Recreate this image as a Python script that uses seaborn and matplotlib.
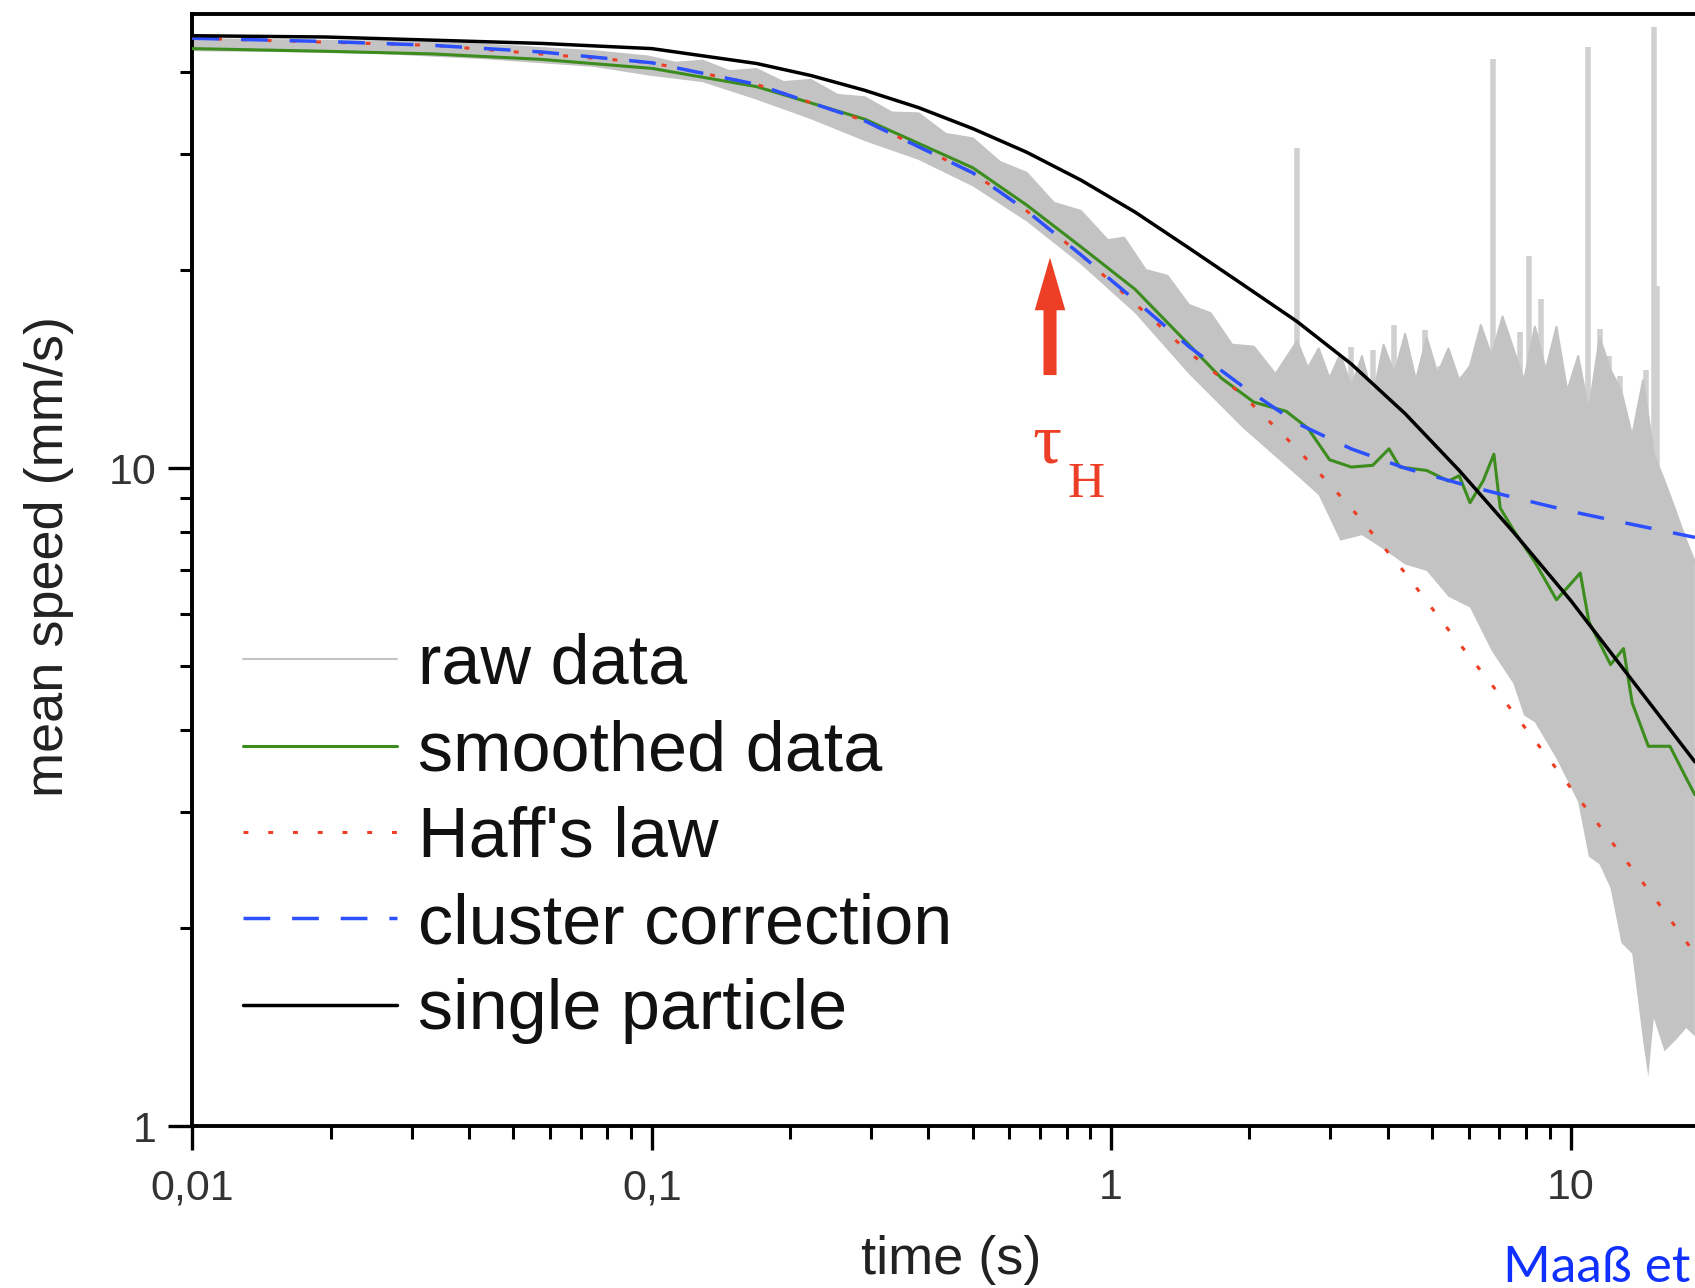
import numpy as np
import matplotlib
matplotlib.use('Agg')
import matplotlib.pyplot as plt
import seaborn as sns
from matplotlib.ticker import LogLocator, FuncFormatter, NullFormatter

# --- values (time in s, speed in mm/s) ---
t_single = [0.01, 0.0194, 0.0333, 0.0573, 0.1, 0.169, 0.222, 0.291, 0.381, 0.5, 0.655, 0.859,
            1.127, 1.477, 1.937, 2.54, 3.331, 4.365, 5.723, 7.505, 10.0, 12.9, 18.65]
v_single = [45.4, 45.2, 44.7, 44.2, 43.4, 41.2, 39.5, 37.5, 35.3, 32.8, 30.2, 27.4,
            24.5, 21.6, 19.0, 16.7, 14.4, 12.1, 9.92, 8.0, 6.3, 5.0, 3.58]

t_cluster = [0.01, 0.0194, 0.0333, 0.0573, 0.1, 0.169, 0.291, 0.5, 0.655, 0.859, 1.127, 1.477,
             1.937, 2.54, 3.331, 4.365, 6.042, 7.505, 10.0, 12.9, 18.65]
v_cluster = [45.0, 44.5, 43.9, 42.9, 41.3, 38.3, 33.7, 28.1, 24.6, 21.1, 18.0, 15.3,
             13.3, 11.7, 10.7, 10.0, 9.38, 9.03, 8.6, 8.28, 7.85]

t_haff = [0.01, 0.0333, 0.1, 0.169, 0.291, 0.5, 0.655, 0.859, 1.477, 1.937, 2.54, 3.331,
          4.365, 5.28, 7.11, 9.02, 11.39, 15.26, 18.65]
v_haff = [45.0, 43.9, 41.3, 38.3, 33.7, 28.1, 24.6, 21.1, 15.0, 12.9, 10.7, 8.70,
          6.93, 5.82, 4.47, 3.60, 2.90, 2.22, 1.83]

t_smooth = [0.01, 0.0194, 0.0333, 0.0573, 0.1, 0.169, 0.291, 0.5, 0.655, 0.859, 1.127, 1.477,
            1.738, 2.044, 2.405, 2.681, 2.988, 3.331, 3.71, 4.025, 4.248, 4.864, 5.422, 5.723,
            6.042, 6.45, 6.81, 7.03, 7.505, 8.365, 9.32, 10.5, 10.96, 12.22, 13.04, 13.62,
            14.77, 16.46, 17.86, 18.65]
v_smooth = [43.4, 43.0, 42.6, 41.8, 40.5, 38.0, 33.9, 28.6, 25.1, 21.7, 18.7, 15.4,
            13.7, 12.6, 12.2, 11.5, 10.3, 10.04, 10.1, 10.7, 10.04, 9.92, 9.56, 9.74,
            8.86, 9.56, 10.5, 8.70, 8.06, 7.20, 6.31, 6.93, 5.85, 5.03, 5.32, 4.40,
            3.78, 3.78, 3.38, 3.19]

# raw data: upper and lower edge of the noisy grey band
t_raw_hi = [0.01, 0.01477, 0.0254, 0.04365, 0.075, 0.0984, 0.1127, 0.129, 0.1477, 0.169,
            0.1937, 0.222, 0.254, 0.291, 0.3331, 0.381, 0.4365, 0.5, 0.5723, 0.655, 0.7505,
            0.859, 0.9838, 1.067, 1.190, 1.326, 1.477, 1.646, 1.834, 2.044, 2.279, 2.54,
            2.681, 2.830, 2.988, 3.154, 3.331, 3.516, 3.710, 3.917, 4.135, 4.365, 4.607,
            4.864, 5.135, 5.422, 5.723, 6.042, 6.378, 6.733, 7.110, 7.505, 7.922, 8.365, 8.831,
            9.320, 9.838, 10.39, 10.96, 11.57, 12.22, 12.90, 13.62, 14.38, 15.18, 16.02, 16.91,
            17.86, 18.65]
v_raw_hi = [44.9, 44.7, 44.5, 44.0, 43.0, 42.2, 41.3, 41.6, 40.1, 40.4,
            38.6, 38.9, 36.9, 36.6, 34.7, 34.6, 32.2, 31.7, 29.2, 28.1, 25.3,
            24.6, 22.2, 22.4, 20.0, 19.6, 17.7, 17.2, 15.4, 15.3, 13.9, 15.6,
            14.2, 15.2, 13.7, 14.9, 13.3, 14.8, 12.8, 15.4, 13.9, 16.0, 13.6,
            15.8, 13.9, 15.2, 13.6, 14.3, 16.5, 14.8, 17.0, 15.2, 13.6, 16.4, 14.1,
            16.4, 13.1, 14.8, 12.2, 15.8, 14.1, 13.1, 11.2, 13.6, 10.5, 9.56, 8.63,
            7.76, 7.20]
t_raw_lo = [0.01, 0.01477, 0.0254, 0.04365, 0.075, 0.0984, 0.129, 0.169, 0.222, 0.291, 0.381,
            0.5, 0.655, 0.859, 1.127, 1.477, 1.937, 2.54, 2.830, 3.154, 3.516, 3.917, 4.365,
            4.864, 5.422, 6.042, 6.733, 7.505, 7.922, 8.365, 9.320, 10.39, 10.96, 11.57, 12.22,
            12.90, 13.62, 14.38, 14.77, 15.18, 16.02, 16.91, 17.86, 18.65]
v_raw_lo = [43.0, 42.9, 42.6, 41.8, 40.7, 39.5, 38.6, 36.3, 33.9, 31.4, 29.4,
            26.8, 23.7, 20.4, 17.2, 13.9, 11.5, 9.74, 9.10, 7.76, 7.91, 7.53, 7.14,
            6.98, 6.38, 6.14, 5.28, 4.71, 4.21, 4.11, 3.62, 3.11, 2.57, 2.50, 2.30,
            1.90, 1.83, 1.35, 1.19, 1.46, 1.30, 1.35, 1.41, 1.37]

# isolated spikes in the raw data (base inside the band, top of spike)
spike_t = [2.54, 3.331, 3.71, 4.135, 4.81, 5.19, 5.82, 6.77, 7.75, 8.14, 8.64, 10.9,
           11.57, 12.15, 12.83, 14.61, 15.18, 15.42]
spike_base = [12, 10, 10, 10, 10, 9, 9, 9, 8, 8, 8, 7, 7, 6, 6, 6, 6, 6]
spike_v = [30.6, 15.3, 15.1, 16.5, 16.2, 14.3, 13.8, 41.9, 16.1, 21.0, 18.1, 43.7,
           16.3, 14.8, 13.8, 14.1, 46.8, 18.9]

tau_h = 0.736          # position of the arrow
tau_arrow = (13.85, 20.9)

x_ticks = [0.01, 0.1, 1, 10]
y_ticks = [1, 10]

# colours
c_raw = '#c3c3c3'
c_green = '#3c8c1e'
c_blue = '#2d50ff'
c_red = '#ec3f25'
c_black = '#000000'

sns.set_theme(style='ticks')
plt.rcParams['font.family'] = ['Liberation Sans', 'DejaVu Sans']

fig = plt.figure(figsize=(16.95, 12.88), dpi=100)
ax = fig.add_axes([0.1135, 0.1255, 0.8865, 0.8637])
ax.set_xscale('log')
ax.set_yscale('log')

# raw data band and spikes
ax.vlines(spike_t, spike_base, spike_v, color='#d0d0d0', lw=4, zorder=1)
ax.fill(np.concatenate([t_raw_hi, t_raw_lo[::-1]]),
        np.concatenate([v_raw_hi, v_raw_lo[::-1]]), color=c_raw, lw=0, zorder=2)
ax.plot(t_raw_hi, v_raw_hi, color=c_raw, lw=1.5, zorder=2, label='raw data')

sns.lineplot(x=t_smooth, y=v_smooth, ax=ax, color=c_green, lw=2.2, zorder=3,
             estimator=None, sort=False, label='smoothed data')
sns.lineplot(x=t_haff, y=v_haff, ax=ax, color=c_red, lw=2.2, zorder=4,
             linestyle=(0, (1.6, 6.5)), estimator=None, sort=False, label="Haff's law")
sns.lineplot(x=t_cluster, y=v_cluster, ax=ax, color=c_blue, lw=2.5, zorder=5,
             linestyle=(0, (7.7, 6.3)), estimator=None, sort=False, label='cluster correction')
sns.lineplot(x=t_single, y=v_single, ax=ax, color=c_black, lw=2.5, zorder=6,
             estimator=None, sort=False, label='single particle')

ax.set_xlim(0.01, 18.66)
ax.set_ylim(1, 49)

# axes styling
for side in ['left', 'bottom', 'top']:
    ax.spines[side].set_linewidth(2.8)
    ax.spines[side].set_color('black')
ax.spines['right'].set_visible(False)

ax.xaxis.set_minor_locator(LogLocator(base=10, subs=np.arange(2, 10)))
ax.yaxis.set_minor_locator(LogLocator(base=10, subs=np.arange(2, 10)))
ax.set_xticks(x_ticks)
ax.set_yticks(y_ticks)
comma = FuncFormatter(lambda v, p: ('%g' % v).replace('.', ','))
ax.xaxis.set_major_formatter(comma)
ax.yaxis.set_major_formatter(comma)
ax.xaxis.set_minor_formatter(NullFormatter())
ax.yaxis.set_minor_formatter(NullFormatter())
ax.tick_params(which='major', direction='out', length=17, width=2.4, color='black',
               labelsize=31, labelcolor='#333333', top=False, right=False)
ax.tick_params(axis='x', which='major', pad=13)
ax.tick_params(axis='y', which='major', pad=9)
ax.tick_params(which='minor', direction='out', length=9, width=2.2, color='black',
               top=False, right=False)

ax.set_xlabel('time (s)', fontsize=39, color='#222222')
ax.set_ylabel('mean speed (mm/s)', fontsize=39, color='#222222')
ax.xaxis.set_label_coords(0.505, -0.098)
ax.yaxis.set_label_coords(-0.079, 0.512)

# tau_H marker
ax.annotate('', xy=(tau_h, tau_arrow[1]), xytext=(tau_h, tau_arrow[0]),
            arrowprops=dict(arrowstyle='simple,head_length=1.9,head_width=1.1,tail_width=0.47',
                            mutation_scale=20, color=c_red, lw=0, shrinkA=0, shrinkB=0))
ax.text(0.673, 10.19, 'τ', color=c_red, fontsize=52, family='Liberation Serif',
        ha='left', va='baseline')
ax.text(0.805, 9.03, 'H', color=c_red, fontsize=37, family='Liberation Serif',
        ha='left', va='baseline')

handles, labels = ax.get_legend_handles_labels()
order = ['raw data', 'smoothed data', "Haff's law", 'cluster correction', 'single particle']
hmap = dict(zip(labels, handles))
leg = ax.legend([hmap[k] for k in order], order, loc='upper left',
                bbox_to_anchor=(0.0337, 0.4435), frameon=False, fontsize=50.5,
                handlelength=2.2, handletextpad=0.3, labelspacing=0.29,
                borderpad=0, borderaxespad=0)
for txt in leg.get_texts():
    txt.set_color('#111111')

fig.text(0.8867, 0.005, 'Maaß et al.', color='#1030ff', fontsize=37,
         family=['Lato', 'DejaVu Sans'], va='baseline')

fig.savefig('out.png', dpi=100, facecolor='white')
